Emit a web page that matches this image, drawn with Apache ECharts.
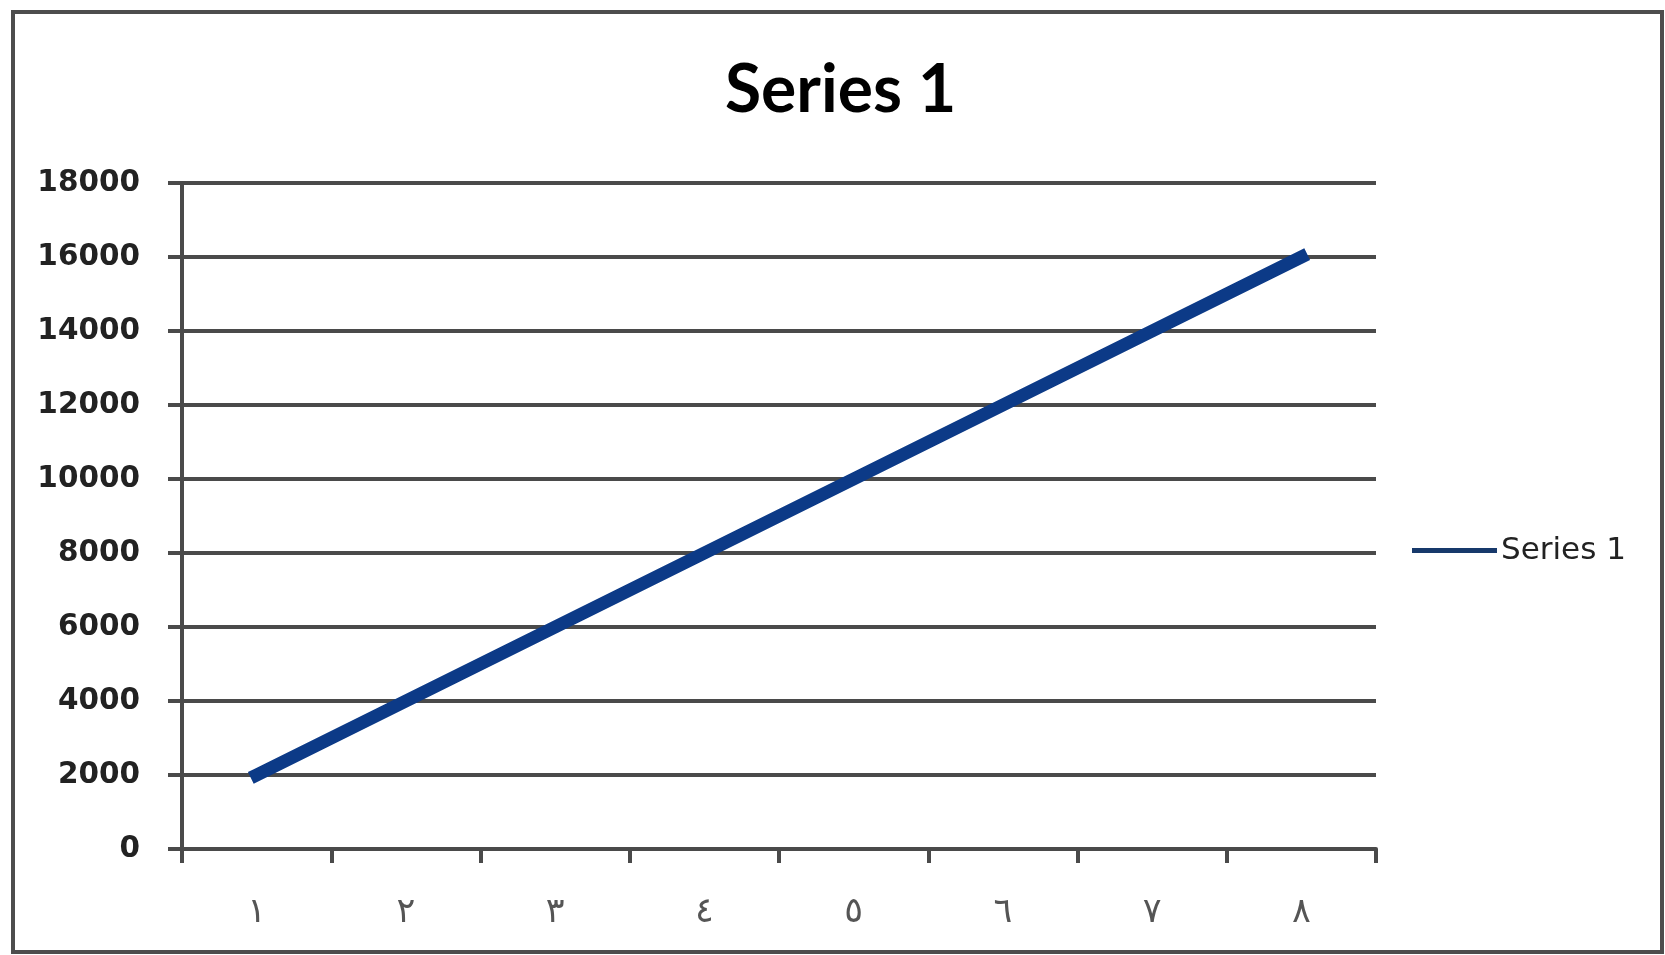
<!DOCTYPE html>
<html>
<head>
<meta charset="utf-8">
<style>
html,body{margin:0;padding:0;background:#fff;}
#chart{width:1665px;height:955px;}
</style>
<script src="https://cdn.jsdelivr.net/npm/echarts@6/dist/echarts.min.js"></script>
</head>
<body>
<div id="chart"></div>
<script>
const categories = ['١','٢','٣','٤','٥','٦','٧','٨'];
const seriesName = 'Series 1';
const values = [2000, 4000, 6000, 8000, 10000, 12000, 14000, 16000];
const titleText = 'Series 1';

const chart = echarts.init(document.getElementById('chart'));
chart.setOption({
  animation: false,
  backgroundColor: '#ffffff',
  graphic: [{
    type: 'rect',
    shape: {x: 13, y: 12, width: 1649, height: 940},
    style: {fill: 'none', stroke: '#4d4d4d', lineWidth: 4},
    silent: true, z: 0
  }],
  title: {
    text: titleText,
    left: 725,
    top: 58,
    padding: 0,
    textStyle: {fontFamily: 'Lato', fontWeight: 'bold', fontSize: 66, color: '#000'}
  },
  legend: {
    left: 1407,
    top: 530,
    itemWidth: 85,
    itemHeight: 5,
    itemGap: 10,
    icon: 'rect',
    data: [{name: seriesName, itemStyle: {color: '#17396b'}}],
    textStyle: {fontFamily: 'DejaVu Sans', fontSize: 31, color: '#222', padding: [4,0,0,-1]}
  },
  grid: {left: 182, top: 183, right: 289, bottom: 106, containLabel: false},
  xAxis: {
    type: 'category',
    data: categories,
    boundaryGap: true,
    axisLine: {show: true, lineStyle: {color: '#4a4a4a', width: 4}},
    axisTick: {show: true, alignWithLabel: false, length: 14, inside: false, lineStyle: {color: '#4a4a4a', width: 4}},
    axisLabel: {fontFamily: 'DejaVu Sans', fontSize: 35, color: '#555', margin: 46}
  },
  yAxis: {
    type: 'value',
    min: 0, max: 18000, interval: 2000,
    axisLine: {show: true, lineStyle: {color: '#4a4a4a', width: 4}},
    axisTick: {show: true, length: 14, lineStyle: {color: '#4a4a4a', width: 4}},
    splitLine: {show: true, lineStyle: {color: '#4a4a4a', width: 4}},
    axisLabel: {fontFamily: 'DejaVu Sans', fontWeight: 'bold', fontSize: 29.5, color: '#222', margin: 42,
      formatter: function (v) { return String(v); }}
  },
  series: [{
    name: seriesName,
    type: 'line',
    data: values,
    showSymbol: false,
    symbol: 'none',
    lineStyle: {color: '#0c3a87', width: 13, cap: 'square'},
    itemStyle: {color: '#0c3a87'},
    z: 5
  }]
});
</script>
</body>
</html>
